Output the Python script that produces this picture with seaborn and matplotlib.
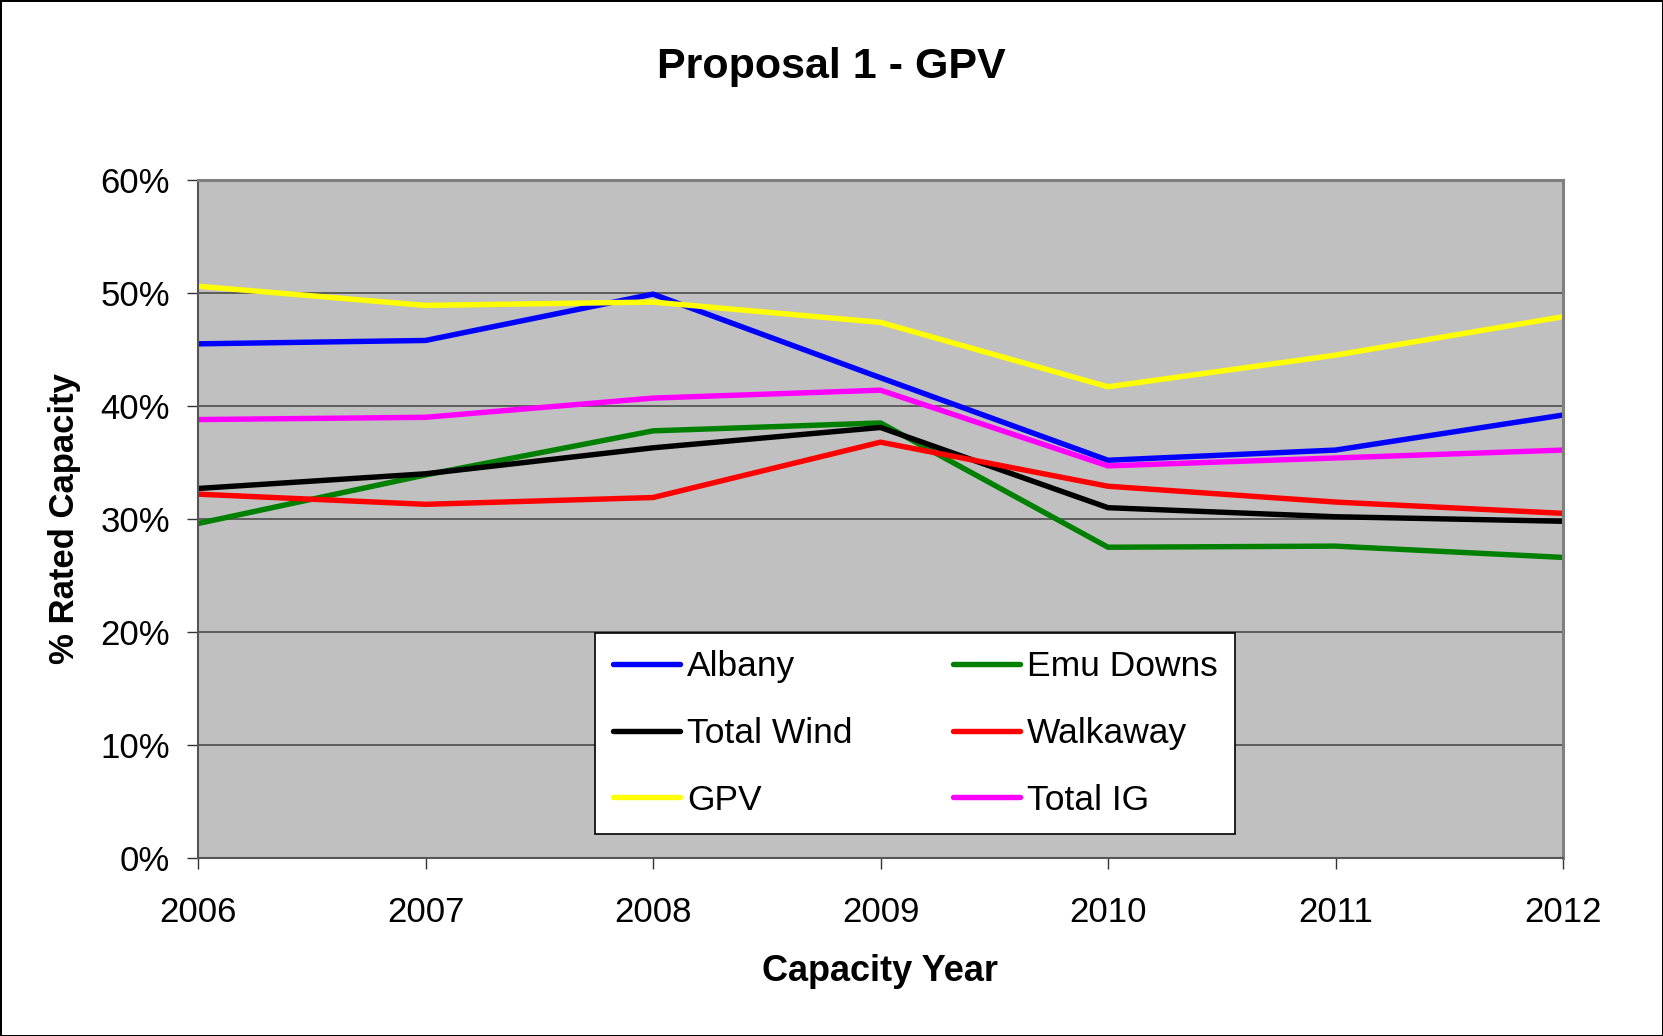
import matplotlib
matplotlib.use("Agg")
import matplotlib.pyplot as plt
from matplotlib.ticker import PercentFormatter
import seaborn as sns

# values (fraction of rated capacity)
YEARS = [2006, 2007, 2008, 2009, 2010, 2011, 2012]
ALBANY = [0.455, 0.458, 0.499, 0.425, 0.352, 0.361, 0.392]
EMU_DOWNS = [0.296, 0.339, 0.378, 0.385, 0.275, 0.276, 0.266]
TOTAL_WIND = [0.327, 0.340, 0.363, 0.381, 0.310, 0.302, 0.298]
WALKAWAY = [0.322, 0.313, 0.319, 0.368, 0.329, 0.315, 0.305]
GPV = [0.506, 0.489, 0.492, 0.474, 0.417, 0.445, 0.479]
TOTAL_IG = [0.388, 0.390, 0.407, 0.414, 0.347, 0.354, 0.361]

SERIES = [
    ("Albany", ALBANY, "#0000FF"),
    ("Emu Downs", EMU_DOWNS, "#008000"),
    ("Total Wind", TOTAL_WIND, "#000000"),
    ("Walkaway", WALKAWAY, "#FF0000"),
    ("GPV", GPV, "#FFFF00"),
    ("Total IG", TOTAL_IG, "#FF00FF"),
]

sns.set_style("ticks")
plt.rcParams["font.family"] = ["Liberation Sans", "DejaVu Sans"]
plt.rcParams["text.color"] = "black"
plt.rcParams["axes.labelcolor"] = "black"
plt.rcParams["xtick.labelcolor"] = "black"
plt.rcParams["ytick.labelcolor"] = "black"

fig = plt.figure(figsize=(16.63, 10.36), dpi=100)
ax = fig.add_axes([198 / 1663, 1 - 858 / 1036, 1365 / 1663, 678 / 1036])
ax.set_facecolor("#C0C0C0")

lines = {}
for name, vals, color in SERIES:
    sns.lineplot(x=YEARS, y=vals, color=color, linewidth=3.9, label=name, ax=ax)
    lines[name] = ax.get_lines()[-1]

ax.set_xlim(2006, 2012)
ax.set_ylim(0, 0.6)
ax.set_xticks(YEARS)
ax.set_xticklabels([str(y) for y in YEARS])
ax.set_yticks([0, 0.1, 0.2, 0.3, 0.4, 0.5, 0.6])
ax.yaxis.set_major_formatter(PercentFormatter(1.0, decimals=0))
ax.grid(axis="y", color="#555555", linewidth=1.3)
ax.set_axisbelow(True)

ax.tick_params(axis="both", labelsize=25, length=8, width=1.0, color="#333333")
ax.tick_params(axis="x", pad=19)
ax.tick_params(axis="y", pad=12)

for side in ["top", "right"]:
    ax.spines[side].set_visible(True)
    ax.spines[side].set_color("#808080")
    ax.spines[side].set_linewidth(2.2)
for side in ["left", "bottom"]:
    ax.spines[side].set_color("#555555")
    ax.spines[side].set_linewidth(1.5)

ax.set_xlabel("Capacity Year", fontsize=26, fontweight="bold")
ax.xaxis.set_label_coords(0.5, -0.168)
ax.xaxis.label.set_va("center")
ax.set_ylabel("% Rated Capacity", fontsize=25, fontweight="bold")
ax.yaxis.set_label_coords(-0.098, 0.5)
ax.yaxis.label.set_va("center")

fig.text(0.5, 1 - 67 / 1036, "Proposal 1 - GPV", fontsize=31, fontweight="bold",
         ha="center", va="center")

# legend filled column-wise, so order gives Albany/Emu Downs on the first row
order = ["Albany", "Total Wind", "GPV", "Emu Downs", "Walkaway", "Total IG"]
leg = ax.legend([lines[n] for n in order], order, ncol=2, fontsize=25.5,
                loc="lower left", bbox_to_anchor=(0.291, 0.035, 0.469, 0.30),
                mode="expand", borderaxespad=0, frameon=True, fancybox=False,
                framealpha=1, edgecolor="black", handlelength=1.9,
                handletextpad=0.2, labelspacing=0.95, borderpad=0.5,
                columnspacing=1.0)
leg.get_frame().set_linewidth(1.2)

fig.patch.set_edgecolor("black")
fig.patch.set_linewidth(2)
fig.savefig("out.png", dpi=100, facecolor="white", edgecolor="black")
